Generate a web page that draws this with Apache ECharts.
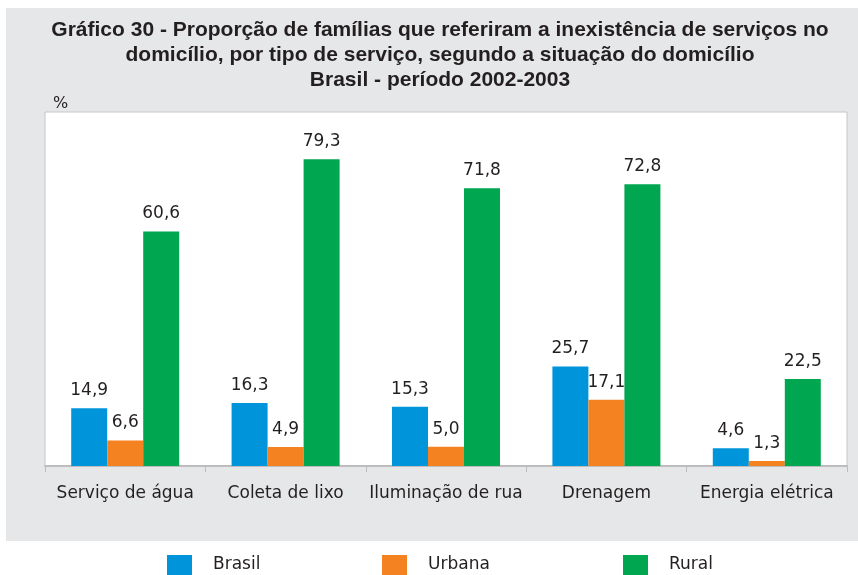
<!DOCTYPE html>
<html>
<head>
<meta charset="utf-8">
<script src="https://cdn.jsdelivr.net/npm/echarts@6/dist/echarts.min.js"></script>
<style>
  html, body { margin: 0; padding: 0; background: #fff; }
  #chart { width: 858px; height: 575px; }
</style>
</head>
<body>
<div id="chart"></div>
<script>
const categories = ['Serviço de água', 'Coleta de lixo', 'Iluminação de rua', 'Drenagem', 'Energia elétrica']
const brasil = [14.9, 16.3, 15.3, 25.7, 4.6]
const urbana = [6.6, 4.9, 5.0, 17.1, 1.3]
const rural = [60.6, 79.3, 71.8, 72.8, 22.5]

const titleText = 'Gráfico 30 - Proporção de famílias que referiram a inexistência de serviços no\n' +
  'domicílio, por tipo de serviço, segundo a situação do domicílio\n' +
  'Brasil - período 2002-2003'

const txt = '#231f20'
const font = 'DejaVu Sans'

const fmt = p => p.value.toFixed(1).replace('.', ',')

const bar = (name, data, color) => ({
  name,
  type: 'bar',
  data,
  barWidth: 36,
  barGap: '0%',
  itemStyle: { color },
  label: {
    show: true,
    position: 'top',
    distance: 9,
    formatter: fmt,
    color: txt,
    fontFamily: font,
    fontSize: 17
  }
})

const legendItem = (name, left) => ({
  data: [name],
  left,
  top: 555,
  padding: 0,
  itemWidth: 25,
  itemHeight: 20,
  icon: 'rect',
  textStyle: { color: txt, fontFamily: font, fontSize: 17, padding: [0, 0, 0, 16] }
})

const chart = echarts.init(document.getElementById('chart'))
chart.setOption({
  animation: false,
  backgroundColor: '#fff',
  graphic: [
    {
      type: 'rect', z: -10, silent: true,
      shape: { x: 6, y: 8, width: 852, height: 533 },
      style: { fill: '#e6e7e8' }
    },
    {
      type: 'text', silent: true,
      style: {
        text: titleText, x: 440, y: 18, textAlign: 'center',
        font: 'bold 21px "Liberation Sans Narrow", "Arial Narrow", sans-serif',
        lineHeight: 25, fill: txt
      }
    },
    {
      type: 'text', silent: true,
      style: { text: '%', x: 53, y: 96, font: '16px "DejaVu Sans"', fill: txt }
    }
  ],
  legend: [
    legendItem('Brasil', 167),
    legendItem('Urbana', 382),
    legendItem('Rural', 623)
  ],
  grid: {
    left: 45, top: 112, right: 11, bottom: 109,
    show: true, backgroundColor: '#fff', borderColor: '#c6c6c6', borderWidth: 1
  },
  xAxis: {
    type: 'category',
    data: categories,
    axisLine: { lineStyle: { color: '#bdbdbd', width: 2 } },
    axisTick: { show: true, length: 6, lineStyle: { color: '#bdbdbd' } },
    axisLabel: { interval: 0, margin: 19, color: txt, fontFamily: font, fontSize: 17 }
  },
  yAxis: {
    type: 'value',
    min: 0,
    max: 91.5,
    show: false,
    splitLine: { show: false }
  },
  series: [
    bar('Brasil', brasil, '#0095da'),
    bar('Urbana', urbana, '#f58220'),
    bar('Rural', rural, '#00a650')
  ]
})
</script>
</body>
</html>
